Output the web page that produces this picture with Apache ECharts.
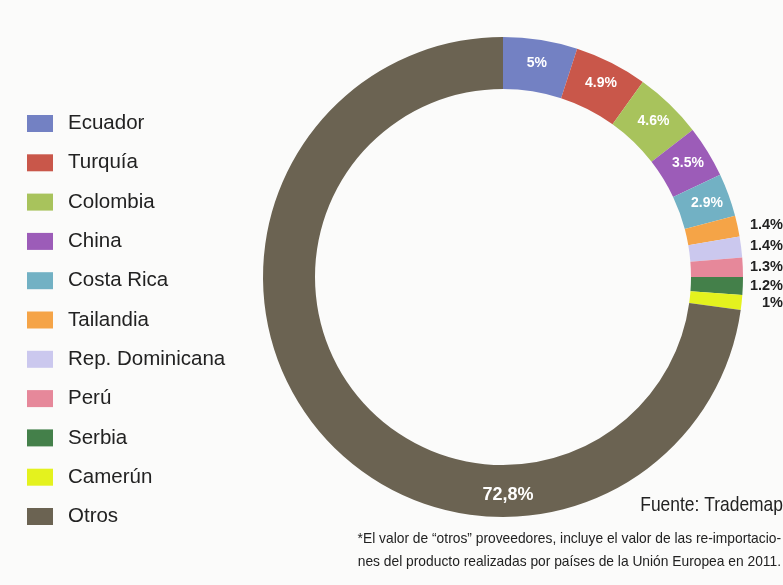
<!DOCTYPE html>
<html><head><meta charset="utf-8">
<script src="https://cdn.jsdelivr.net/npm/echarts@6/dist/echarts.min.js"></script>
<style>html,body{margin:0;padding:0;background:#fbfbfa;}#c{width:783px;height:585px;}</style>
</head><body><div id="c"></div>
<script>
const categories = ['Ecuador','Turquía','Colombia','China','Costa Rica','Tailandia','Rep. Dominicana','Perú','Serbia','Camerún','Otros'];
const shares = [5, 4.9, 4.6, 3.5, 2.9, 1.4, 1.4, 1.3, 1.2, 1, 72.8];
const shareLabels = ['5%','4.9%','4.6%','3.5%','2.9%','1.4%','1.4%','1.3%','1.2%','1%','72,8%'];
const colors = ['#7381c3','#c9574a','#a8c35c','#9c5cb8','#72b1c4','#f5a447','#cbc8ee','#e6889a','#44804a','#e4f21e','#6b6352'];
const insideCount = 5;

const sans = "'Liberation Sans',Arial,sans-serif";
const data = categories.map((name, i) => {
  const item = { name, value: shares[i], itemStyle: { color: colors[i] } };
  if (i < insideCount) {
    item.label = { show: true, position: 'inside', color: '#fff', fontWeight: 'bold', fontSize: 14, fontFamily: sans };
  } else if (i < categories.length - 1) {
    item.label = { show: true, position: 'outside', alignTo: 'edge', edgeDistance: 0, color: '#222', fontWeight: 'bold', fontSize: 14.5, fontFamily: sans };
    item.labelLine = { show: false, length: 6, length2: 0 };
  } else {
    item.label = { show: false };
    item.labelLine = { show: false };
  }
  return item;
});

const chart = echarts.init(document.getElementById('c'), null, { renderer: 'canvas' });
chart.setOption({
  backgroundColor: '#fbfbfa',
  animation: false,
  legend: {
    orient: 'vertical', left: 27, top: 113, padding: 0,
    icon: 'rect', itemWidth: 26, itemHeight: 17, itemGap: 18.3,
    data: categories,
    textStyle: { fontSize: 20.5, color: '#222', lineHeight: 20, fontFamily: sans, padding: [0, 0, 0, 10] }
  },
  series: [{
    type: 'pie',
    center: [503, 277],
    radius: [188, 240],
    startAngle: 90,
    clockwise: true,
    avoidLabelOverlap: false,
    data: data,
    label: { formatter: p => shareLabels[p.dataIndex] },
    emphasis: { disabled: true }
  }],
  graphic: [
    { type: 'text', z: 100, x: 508, y: 495, style: { text: shareLabels[categories.length - 1], fill: '#fff', font: 'bold 18px ' + sans, textAlign: 'center', textVerticalAlign: 'middle' } },
    { type: 'text', z: 100, x: 783, y: 505, scaleX: 0.83, style: { text: 'Fuente: Trademap', fill: '#222', font: '21px ' + sans, textAlign: 'right', textVerticalAlign: 'middle' } },
    { type: 'text', z: 100, x: 781, y: 539, scaleX: 0.92, style: { text: '*El valor de \u201cotros\u201d proveedores, incluye el valor de las re-importacio-', fill: '#222', font: '15px ' + sans, textAlign: 'right', textVerticalAlign: 'middle' } },
    { type: 'text', z: 100, x: 781, y: 562, scaleX: 0.92, style: { text: 'nes del producto realizadas por países de la Unión Europea en 2011.', fill: '#222', font: '15px ' + sans, textAlign: 'right', textVerticalAlign: 'middle' } }
  ]
});
</script></body></html>
